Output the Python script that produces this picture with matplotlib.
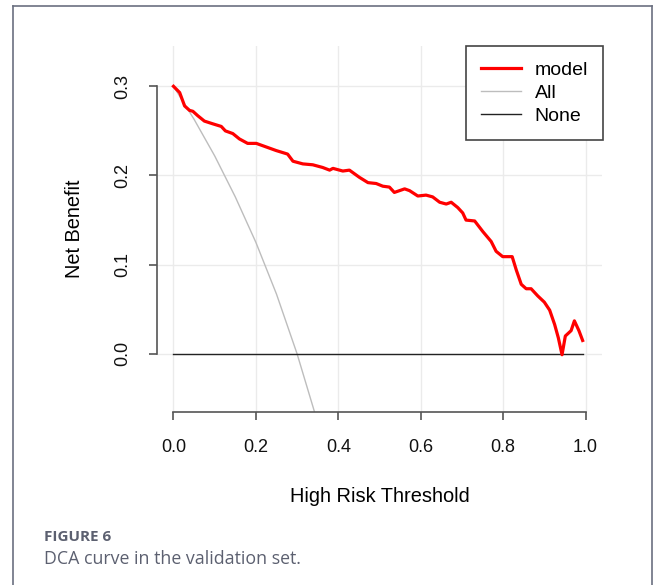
import matplotlib.pyplot as plt
from matplotlib.lines import Line2D

plt.rcParams['font.family'] = ['Liberation Sans', 'DejaVu Sans']

# model net benefit curve
thresholds = [0.0, 0.015, 0.027, 0.039, 0.047, 0.059, 0.075, 0.095, 0.116, 0.126,
              0.144, 0.160, 0.180, 0.201, 0.225, 0.249, 0.277, 0.290, 0.314, 0.338,
              0.362, 0.379, 0.387, 0.411, 0.427, 0.451, 0.472, 0.492, 0.508, 0.524,
              0.536, 0.561, 0.573, 0.593, 0.613, 0.629, 0.646, 0.662, 0.674, 0.690,
              0.702, 0.710, 0.731, 0.751, 0.771, 0.783, 0.799, 0.822, 0.832, 0.844,
              0.856, 0.868, 0.884, 0.900, 0.913, 0.925, 0.934, 0.943, 0.951, 0.965,
              0.973, 0.984, 0.993]
model_nb = [0.300, 0.293, 0.278, 0.273, 0.272, 0.267, 0.261, 0.258, 0.255, 0.250,
            0.247, 0.241, 0.236, 0.236, 0.232, 0.228, 0.224, 0.216, 0.213, 0.212,
            0.209, 0.206, 0.208, 0.205, 0.206, 0.198, 0.192, 0.191, 0.188, 0.187,
            0.181, 0.185, 0.183, 0.177, 0.178, 0.176, 0.170, 0.168, 0.170, 0.164,
            0.158, 0.150, 0.149, 0.137, 0.126, 0.115, 0.109, 0.109, 0.094, 0.078,
            0.073, 0.073, 0.065, 0.058, 0.049, 0.033, 0.018, -0.001, 0.020, 0.026,
            0.037, 0.026, 0.015]

# treat-all curve
all_t = [0.0, 0.05, 0.10, 0.15, 0.20, 0.25, 0.30, 0.35]
all_nb = [0.300, 0.263, 0.222, 0.176, 0.125, 0.067, 0.000, -0.077]

# treat-none
none_t = [0.0, 0.993]
none_nb = [0.0, 0.0]

fig = plt.figure(figsize=(6.57, 5.85), dpi=100)
ax = fig.add_axes([157 / 657, 173 / 585, 445 / 657, 366 / 585])

ax.set_xlim(-0.04, 1.04)
ax.set_ylim(-0.0652, 0.3452)

ax.set_xticks([0, 0.2, 0.4, 0.6, 0.8, 1.0])
ax.set_yticks([0, 0.1, 0.2, 0.3])
ax.grid(True, color='#ebebeb', linewidth=1)
ax.set_axisbelow(True)

ax.plot(all_t, all_nb, color='#bdbdbd', linewidth=1, label='All')
ax.plot(none_t, none_nb, color='#222222', linewidth=1, label='None')
ax.plot(thresholds, model_nb, color='#ff0000', linewidth=2.3, label='model')

for s in ['top', 'right']:
    ax.spines[s].set_visible(False)
ax.spines['left'].set_bounds(0, 0.3)
ax.spines['bottom'].set_bounds(0, 1.0)
for s in ['left', 'bottom']:
    ax.spines[s].set_color('#555555')
    ax.spines[s].set_linewidth(1.2)

ax.tick_params(direction='out', length=5.5, width=1.2, color='#555555',
               labelsize=13, labelcolor='#111111')
ax.tick_params(axis='x', pad=14)
ax.tick_params(axis='y', pad=13)
ax.set_xticklabels(['0.0', '0.2', '0.4', '0.6', '0.8', '1.0'])
ax.set_yticklabels(['0.0', '0.1', '0.2', '0.3'], rotation=90, va='center')

ax.set_xlabel('High Risk Threshold', fontsize=14.4, labelpad=22)
ax.set_ylabel('Net Benefit', fontsize=14.4, labelpad=22)

handles, labels = ax.get_legend_handles_labels()
order = [2, 0, 1]
leg = ax.legend([handles[i] for i in order], [labels[i] for i in order],
                loc='upper right', bbox_to_anchor=(1.003, 1.0), fontsize=14,
                fancybox=False, framealpha=1, edgecolor='#444444',
                handlelength=2.05, handletextpad=0.7, labelspacing=0.28,
                borderpad=0.78, borderaxespad=0)
leg.get_frame().set_linewidth(1.2)

# page frame around the figure
frame_color = '#6b7080'
fig.add_artist(Line2D([13 / 657, 13 / 657], [0, 1 - 6 / 585], color=frame_color, linewidth=1.2))
fig.add_artist(Line2D([652 / 657, 652 / 657], [0, 1 - 6 / 585], color=frame_color, linewidth=1.2))
fig.add_artist(Line2D([13 / 657, 652 / 657], [1 - 6 / 585, 1 - 6 / 585], color=frame_color, linewidth=1.2))

fig.text(44 / 657, 1 - 537 / 585, 'FIGURE 6', fontsize=11, fontweight='bold',
         color='#5c6070', family=['Open Sans', 'DejaVu Sans'], va='center')
fig.text(44 / 657, 1 - 559 / 585, 'DCA curve in the validation set.', fontsize=12.8,
         color='#5c6070', family=['Open Sans', 'DejaVu Sans'], va='center')

fig.savefig('out.png', dpi=100)
